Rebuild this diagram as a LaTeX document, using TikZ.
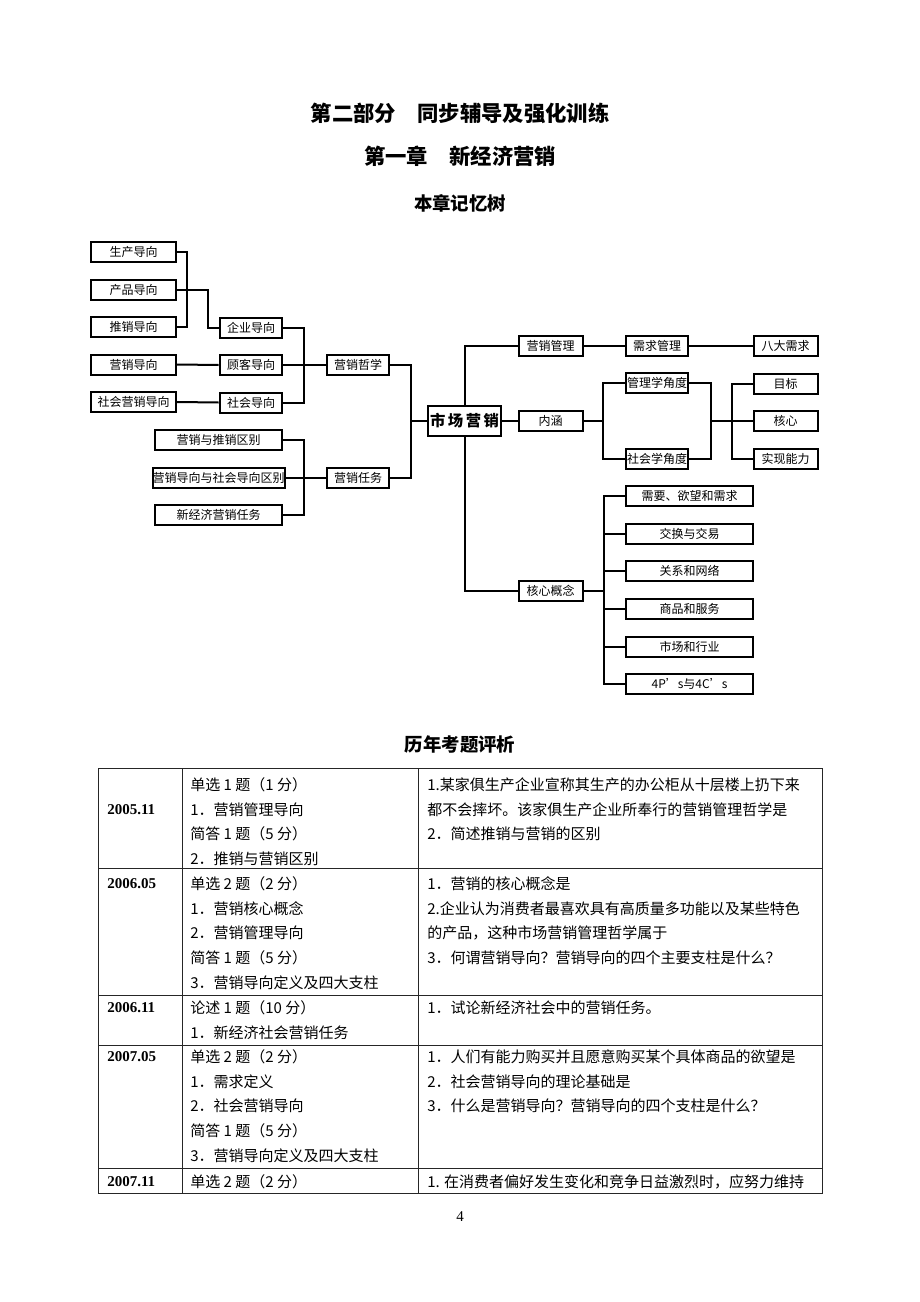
\documentclass[tikz,border=0pt]{standalone}
\usepackage{fontspec}
\setmainfont{Noto Sans CJK SC}
\newfontfamily\yearfont{Liberation Serif}
\usepackage{tikz}

\begin{document}
\begin{tikzpicture}[x=0.75pt,y=0.75pt,yscale=-1,xscale=1,
  tbox/.style={draw,line width=1.5pt,inner sep=0pt,minimum height=15pt,font=\fontsize{9}{11}\selectfont},
  wl/.style={tbox,minimum width=64pt},
  ws/.style={tbox,minimum width=47pt},
  ww/.style={tbox,minimum width=95.5pt},
  wr/.style={tbox,minimum width=48pt},
  rootbox/.style={draw,line width=1.8pt,inner sep=0pt,minimum width=55pt,minimum height=22.5pt,font=\bfseries\fontsize{11.5}{13}\selectfont},
  link/.style={line width=1.5pt},
  tline/.style={line width=0.7pt,draw=black!85},
  cell/.style={anchor=north west,inner sep=0pt,align=left,font=\fontsize{11.25}{18.45}\selectfont},
  yearcell/.style={anchor=west,inner sep=0pt,font=\yearfont\bfseries\fontsize{11.25}{13}\selectfont},
  headline/.style={inner sep=0pt,font=\bfseries\fontsize{16}{18}\selectfont},
  subhead/.style={inner sep=0pt,font=\bfseries\fontsize{13.8}{16}\selectfont}
]

\useasboundingbox (0,0) rectangle (920,1302);

% titles
\draw (460,113) node [headline] (part) {第二部分　同步辅导及强化训练};

\draw (460,156) node [headline] (chap) {第一章　新经济营销};

\draw (460,203) node [subhead] (treehead) {本章记忆树};

\draw (460,744) node [subhead] (tablehead) {历年考题评析};

% memory tree, left part
\draw (133.5,252) node [wl] (scdx) {生产导向};

\draw (133.5,289.5) node [wl] (cpdx) {产品导向};

\draw (133.5,327) node [wl] (txdx) {推销导向};

\draw (133.5,364.5) node [wl] (yxdx) {营销导向};

\draw (133.5,402) node [wl] (shyxdx) {社会营销导向};

\draw (251,327.5) node [ws] (qydx) {企业导向};

\draw (251,365) node [ws] (gkdx) {顾客导向};

\draw (251,402.5) node [ws] (shdx) {社会导向};

\draw (218.5,440) node [ww] (ytqb) {营销与推销区别};

\draw (218.5,477.5) node [ww] (ydqb) {营销导向与社会导向区别};

\draw (218.5,515) node [ww] (xjjrw) {新经济营销任务};

\draw (358,365) node [ws] (yxzx) {营销哲学};

\draw (358,477.5) node [ws] (yxrw) {营销任务};

\draw (464.5,421) node [rootbox] (scyx) {市\,场\,营\,销};

% memory tree, right part
\draw (550.5,346) node [wr] (yxgl) {营销管理};

\draw (550.5,421) node [wr] (nh) {内涵};

\draw (550.5,590.5) node [wr] (hxgn) {核心概念};

\draw (657,346) node [ws] (xqgl) {需求管理};

\draw (657,383) node [ws] (glxjd) {管理学角度};

\draw (657,459) node [ws] (shxjd) {社会学角度};

\draw (785.5,346) node [wr] (bdxq) {八大需求};

\draw (785.5,383.5) node [wr] (mb) {目标};

\draw (785.5,421) node [wr] (hx) {核心};

\draw (785.5,459) node [wr] (sxnl) {实现能力};

\draw (689.5,496) node [ww] (gna) {需要、欲望和需求};

\draw (689.5,534) node [ww] (gnb) {交换与交易};

\draw (689.5,571) node [ww] (gnc) {关系和网络};

\draw (689.5,609) node [ww] (gnd) {商品和服务};

\draw (689.5,646.5) node [ww] (gne) {市场和行业};

\draw (689.5,684) node [ww] (gnf) {4P’s与4C’s};

% bus lines
\coordinate (busA) at (187,0);
\coordinate (busB) at (208,0);
\coordinate (busC) at (304,0);
\coordinate (busD) at (411,0);
\coordinate (busE) at (603,0);
\coordinate (busF) at (711,0);
\coordinate (busG) at (732,0);
\coordinate (busH) at (604,0);

\draw [link] (scdx.east) -- (scdx.east -| busA) |- (txdx.east);
\draw [link] (cpdx.east) -- (cpdx.east -| busB) |- (qydx.west);
\draw [link] (yxdx.east) -- (gkdx.west);
\draw [link] (shyxdx.east) -- (shdx.west);
\draw [link] (qydx.east) -- (qydx.east -| busC) |- (shdx.east);
\draw [link] (gkdx.east) -- (yxzx.west);
\draw [link] (ytqb.east) -- (ytqb.east -| busC) |- (xjjrw.east);
\draw [link] (ydqb.east) -- (yxrw.west);
\draw [link] (yxzx.east) -- (yxzx.east -| busD) |- (yxrw.east);
\draw [link] (scyx.west) -- (scyx.west -| busD);

\draw [link] (scyx.north) |- (yxgl.west);
\draw [link] (scyx.south) |- (hxgn.west);
\draw [link] (scyx.east) -- (nh.west);
\draw [link] (yxgl.east) -- (xqgl.west);
\draw [link] (xqgl.east) -- (bdxq.west);
\draw [link] (nh.east) -- (nh.east -| busE);
\draw [link] (glxjd.west) -- (glxjd.west -| busE) |- (shxjd.west);
\draw [link] (glxjd.east) -- (glxjd.east -| busF) |- (shxjd.east);
\draw [link] (hx.west) -- (hx.west -| busF);
\draw [link] (mb.west) -- (mb.west -| busG) |- (sxnl.west);
\draw [link] (hxgn.east) -- (hxgn.east -| busH);
\draw [link] (gna.west) -- (gna.west -| busH) |- (gnf.west);
\draw [link] (gnb.west) -- (gnb.west -| busH);
\draw [link] (gnc.west) -- (gnc.west -| busH);
\draw [link] (gnd.west) -- (gnd.west -| busH);
\draw [link] (gne.west) -- (gne.west -| busH);

% table
\draw [tline] (98,768) rectangle (822,1193);
\draw [tline] (98,868) -- (822,868);
\draw [tline] (98,995) -- (822,995);
\draw [tline] (98,1045) -- (822,1045);
\draw [tline] (98,1168) -- (822,1168);
\draw [tline] (182,768) -- (182,1193);
\draw [tline] (418,768) -- (418,1193);

\draw (107,810) node [yearcell] (ya) {2005.11};

\draw (107,884) node [yearcell] (yb) {2006.05};

\draw (107,1008) node [yearcell] (yc) {2006.11};

\draw (107,1057) node [yearcell] (yd) {2007.05};

\draw (107,1182) node [yearcell] (ye) {2007.11};

\draw (190,777.5) node [cell] (ka) {单选 1 题（1 分）\\1．营销管理导向\\简答 1 题（5 分）\\2．推销与营销区别};

\draw (190,876.5) node [cell] (kb) {单选 2 题（2 分）\\1．营销核心概念\\2．营销管理导向\\简答 1 题（5 分）\\3．营销导向定义及四大支柱};

\draw (190,1000.5) node [cell] (kc) {论述 1 题（10 分）\\1．新经济社会营销任务};

\draw (190,1049.5) node [cell] (kd) {单选 2 题（2 分）\\1．需求定义\\2．社会营销导向\\简答 1 题（5 分）\\3．营销导向定义及四大支柱};

\draw (190,1174.5) node [cell] (ke) {单选 2 题（2 分）};

\draw (427,777.5) node [cell] (qa) {1.某家俱生产企业宣称其生产的办公柜从十层楼上扔下来\\都不会摔坏。该家俱生产企业所奉行的营销管理哲学是\\2．简述推销与营销的区别};

\draw (427,876.5) node [cell] (qb) {1．营销的核心概念是\\2.企业认为消费者最喜欢具有高质量多功能以及某些特色\\的产品，这种市场营销管理哲学属于\\3．何谓营销导向？营销导向的四个主要支柱是什么？};

\draw (427,1000.5) node [cell] (qc) {1．试论新经济社会中的营销任务。};

\draw (427,1049.5) node [cell] (qd) {1．人们有能力购买并且愿意购买某个具体商品的欲望是\\2．社会营销导向的理论基础是\\3．什么是营销导向？营销导向的四个支柱是什么？};

\draw (427,1174.5) node [cell] (qe) {1. 在消费者偏好发生变化和竞争日益激烈时，应努力维持};

\draw (460,1217) node [font=\yearfont\fontsize{11.25}{13}\selectfont,inner sep=0pt] (pageno) {4};

\end{tikzpicture}
\end{document}
